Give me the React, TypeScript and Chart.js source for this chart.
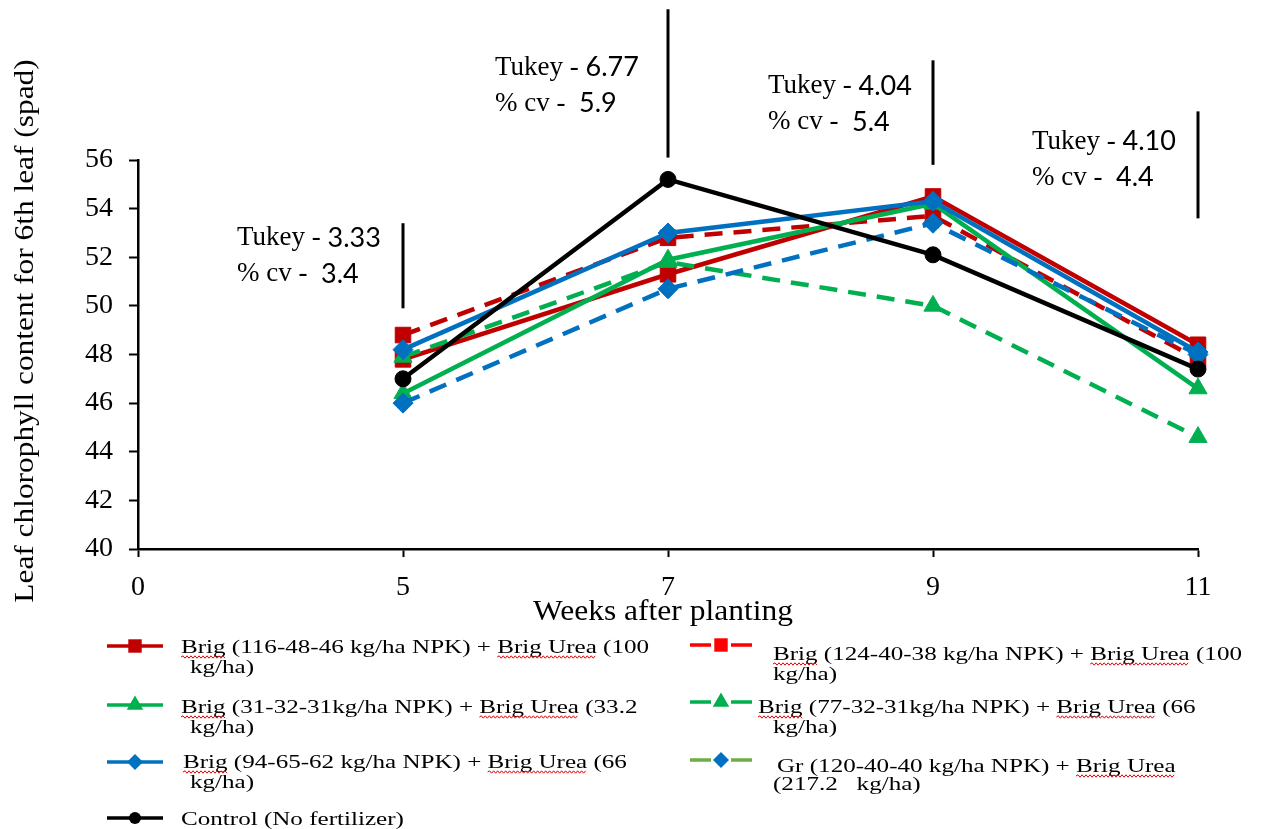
import React, { useEffect, useRef } from 'react';
import { Chart, registerables } from 'chart.js';

Chart.register(...registerables);

// ---------- data ----------
const weekLabels = ['0', '5', '7', '9', '11'];

const seriesNames = [
  'Brig (116-48-46 kg/ha NPK) + Brig Urea (100 kg/ha)',
  'Brig (124-40-38 kg/ha NPK) + Brig Urea (100 kg/ha)',
  'Brig (31-32-31kg/ha NPK) + Brig Urea (33.2 kg/ha)',
  'Brig (77-32-31kg/ha NPK) + Brig Urea (66 kg/ha)',
  'Brig (94-65-62 kg/ha NPK) + Brig Urea (66 kg/ha)',
  'Gr (120-40-40 kg/ha NPK) + Brig Urea (217.2 kg/ha)',
  'Control (No fertilizer)',
];

const brig116 = [null, 47.8, 51.3, 54.5, 48.4];
const brig124 = [null, 48.8, 52.8, 53.7, 47.8];
const brig31 = [null, 46.4, 51.9, 54.2, 46.6];
const brig77 = [null, 47.9, 51.8, 50.0, 44.6];
const brig94 = [null, 48.2, 53.0, 54.3, 48.1];
const gr120 = [null, 46.0, 50.7, 53.4, 48.0];
const control = [null, 47.0, 55.2, 52.1, 47.4];

const tukeyWeeks = ['5', '7', '9', '11'];
const tukeyValues = ['3.33', '6.77', '4.04', '4.10'];
const cvValues = ['3.4', '5.9', '5.4', '4.4'];

const yTicksMin = 40;
const yTicksMax = 56;
const yTicksStep = 2;

// ---------- styles / layout ----------
const seriesData = [brig116, brig124, brig31, brig77, brig94, gr120, control];
const seriesStyle = [
  { color: '#C00000', dash: [], point: 'rect', radius: 11, legendLine: '#C00000', legendMarker: '#C00000' },
  { color: '#C00000', dash: [18, 11], point: 'rect', radius: 11, legendLine: '#FF0000', legendMarker: '#FF0000' },
  { color: '#00B050', dash: [], point: 'triangle', radius: 10.5, legendLine: '#00B050', legendMarker: '#00B050' },
  { color: '#00B050', dash: [18, 11], point: 'triangle', radius: 10.5, legendLine: '#00B050', legendMarker: '#00B050' },
  { color: '#0070C0', dash: [], point: 'rectRot', radius: 10, legendLine: '#0070C0', legendMarker: '#0070C0' },
  { color: '#0070C0', dash: [18, 11], point: 'rectRot', radius: 10, legendLine: '#70AD47', legendMarker: '#0070C0' },
  { color: '#000000', dash: [], point: 'circle', radius: 8, legendLine: '#000000', legendMarker: '#000000' },
];

// annotation bars (data units) & text centre (data units)
const tukeyBarBottom = [49.9, 56.1, 55.8, 53.6];
const tukeyBarTop = [53.4, 62.2, 60.1, 58.0];
const tukeyTextY = [52.8, 59.8, 59.05, 56.75];
const tukeyTextDx = [-166, -173, -165, -166];

const legendLayout = [
  { sx0: 107, sx1: 163, sy: 646, split: false, lines: [[181, 648, 'Brig (116-48-46 kg/ha NPK) + Brig Urea (100'], [190, 668, 'kg/ha)']] },
  { sx0: 690, sx1: 752, sy: 645, split: true, lines: [[773, 655, 'Brig (124-40-38 kg/ha NPK) + Brig Urea (100'], [773, 675, 'kg/ha)']] },
  { sx0: 107, sx1: 163, sy: 705, split: false, lines: [[181, 708, 'Brig (31-32-31kg/ha NPK) + Brig Urea (33.2'], [190, 728, 'kg/ha)']] },
  { sx0: 690, sx1: 752, sy: 702, split: true, lines: [[758, 708, 'Brig (77-32-31kg/ha NPK) + Brig Urea (66'], [773, 728, 'kg/ha)']] },
  { sx0: 107, sx1: 163, sy: 762, split: false, lines: [[183, 763, 'Brig (94-65-62 kg/ha NPK) + Brig Urea (66'], [190, 783, 'kg/ha)']] },
  { sx0: 690, sx1: 752, sy: 760, split: true, lines: [[777, 767, 'Gr (120-40-40 kg/ha NPK) + Brig Urea'], [773, 785, '(217.2   kg/ha)']] },
  { sx0: 107, sx1: 163, sy: 818, split: false, lines: [[181, 820, 'Control (No fertilizer)']] },
];

const SERIF = '"Liberation Serif", "Times New Roman", serif';
const SANS = 'Lato, "Open Sans", sans-serif';

function drawMarker(ctx: CanvasRenderingContext2D, style: string, x: number, y: number, r: number, color: string) {
  ctx.save();
  ctx.fillStyle = color;
  ctx.beginPath();
  if (style === 'rect') {
    const s = r * Math.SQRT1_2;
    ctx.rect(x - s, y - s, 2 * s, 2 * s);
  } else if (style === 'triangle') {
    for (let i = 0; i < 3; i++) {
      const a = -Math.PI / 2 + (i * 2 * Math.PI) / 3;
      const px = x + Math.cos(a) * r;
      const py = y + Math.sin(a) * r;
      if (i === 0) ctx.moveTo(px, py);
      else ctx.lineTo(px, py);
    }
    ctx.closePath();
  } else if (style === 'rectRot') {
    ctx.moveTo(x, y - r);
    ctx.lineTo(x + r, y);
    ctx.lineTo(x, y + r);
    ctx.lineTo(x - r, y);
    ctx.closePath();
  } else {
    ctx.arc(x, y, r, 0, Math.PI * 2);
  }
  ctx.fill();
  ctx.restore();
}

function wavy(ctx: CanvasRenderingContext2D, x0: number, x1: number, y: number) {
  ctx.save();
  ctx.strokeStyle = '#E00000';
  ctx.lineWidth = 1;
  ctx.beginPath();
  let up = true;
  ctx.moveTo(x0, y);
  for (let x = x0 + 2; x <= x1; x += 2) {
    ctx.lineTo(x, y + (up ? -1.2 : 1.2));
    up = !up;
  }
  ctx.stroke();
  ctx.restore();
}

const overlayPlugin = {
  id: 'overlay',
  afterDraw(chart: any) {
    const ctx: CanvasRenderingContext2D = chart.ctx;
    const xs = chart.scales.x;
    const ys = chart.scales.y;
    ctx.save();

    // Axis titles
    ctx.fillStyle = '#000';
    ctx.textAlign = 'center';
    ctx.textBaseline = 'middle';
    ctx.save();
    ctx.translate(26, 331);
    ctx.rotate(-Math.PI / 2);
    ctx.scale(1.12, 1);
    ctx.font = `28px ${SERIF}`;
    ctx.fillText('Leaf chlorophyll content for 6th leaf (spad)', 0, 0);
    ctx.restore();

    ctx.save();
    ctx.translate(663, 612);
    ctx.scale(1.05, 1);
    ctx.font = `30px ${SERIF}`;
    ctx.fillText('Weeks after planting', 0, 0);
    ctx.restore();

    // Tukey annotations
    tukeyWeeks.forEach((wk, i) => {
      const idx = weekLabels.indexOf(wk);
      const x = xs.getPixelForValue(idx);
      ctx.save();
      ctx.strokeStyle = '#000';
      ctx.lineWidth = 3;
      ctx.beginPath();
      ctx.moveTo(x, ys.getPixelForValue(tukeyBarBottom[i]));
      ctx.lineTo(x, ys.getPixelForValue(tukeyBarTop[i]));
      ctx.stroke();
      ctx.restore();

      const tx = x + tukeyTextDx[i];
      const ty = ys.getPixelForValue(tukeyTextY[i]);
      ctx.textAlign = 'left';
      ctx.textBaseline = 'middle';
      ctx.font = `27px ${SERIF}`;
      const p1 = 'Tukey - ';
      ctx.fillText(p1, tx, ty);
      const w1 = ctx.measureText(p1).width;
      ctx.font = `27px ${SANS}`;
      ctx.fillText(tukeyValues[i], tx + w1, ty);

      ctx.font = `27px ${SERIF}`;
      const p2 = '% cv -  ';
      ctx.fillText(p2, tx, ty + 36);
      const w2 = ctx.measureText(p2).width;
      ctx.font = `27px ${SANS}`;
      ctx.fillText(cvValues[i], tx + w2, ty + 36);
    });

    // Legend
    const SX = 1.32;
    legendLayout.forEach((item, i) => {
      const st = seriesStyle[i];
      ctx.save();
      ctx.strokeStyle = st.legendLine;
      ctx.lineWidth = 3.5;
      ctx.beginPath();
      const mx = (item.sx0 + item.sx1) / 2;
      if (item.split) {
        ctx.moveTo(item.sx0, item.sy);
        ctx.lineTo(mx - 10, item.sy);
        ctx.moveTo(mx + 10, item.sy);
        ctx.lineTo(item.sx1, item.sy);
      } else {
        ctx.moveTo(item.sx0, item.sy);
        ctx.lineTo(item.sx1, item.sy);
      }
      ctx.stroke();
      ctx.restore();
      const mr = st.point === 'circle' ? 6 : st.point === 'rectRot' ? 8 : 9.5;
      drawMarker(ctx, st.point, mx, item.sy, mr, st.legendMarker);

      ctx.fillStyle = '#000';
      ctx.font = `19px ${SERIF}`;
      ctx.textAlign = 'left';
      ctx.textBaseline = 'middle';
      item.lines.forEach(([lx, ly, text]: any) => {
        ctx.save();
        ctx.translate(lx, ly);
        ctx.scale(SX, 1);
        ctx.fillText(text, 0, 0);
        ctx.restore();
        const re = /Brig( Urea)?/g;
        let m: RegExpExecArray | null;
        while ((m = re.exec(text)) !== null) {
          const a = ctx.measureText(text.slice(0, m.index)).width * SX;
          const w = ctx.measureText(m[0]).width * SX;
          wavy(ctx, lx + a, lx + a + w, ly + 9);
        }
      });
    });

    ctx.restore();
  },
};

export default function App() {
  const canvasRef = useRef<HTMLCanvasElement | null>(null);

  useEffect(() => {
    document.body.style.margin = '0';
    const canvas = canvasRef.current;
    if (!canvas) return;

    const datasets = seriesData.map((d, i) => {
      const st = seriesStyle[i];
      return {
        label: seriesNames[i],
        data: d,
        borderColor: st.color,
        backgroundColor: st.color,
        borderWidth: 4.5,
        borderDash: st.dash,
        pointStyle: st.point,
        pointRadius: st.radius,
        pointHoverRadius: st.radius,
        pointBackgroundColor: st.color,
        pointBorderColor: st.color,
        pointBorderWidth: 1,
        tension: 0,
        fill: false,
        clip: false,
        order: seriesData.length - i,
      };
    });

    const chart = new Chart(canvas, {
      type: 'line',
      data: { labels: weekLabels, datasets: datasets as any },
      options: {
        responsive: false,
        maintainAspectRatio: false,
        animation: false,
        devicePixelRatio: 1,
        layout: { padding: { left: 0, right: 64, top: 160, bottom: 199 } },
        plugins: {
          legend: { display: false },
          tooltip: { enabled: false },
          title: { display: false },
        },
        scales: {
          x: {
            type: 'category',
            offset: false,
            grid: {
              display: true,
              drawOnChartArea: false,
              drawTicks: true,
              tickLength: 8,
              tickColor: '#000',
              tickWidth: 2,
            },
            border: { display: true, color: '#000', width: 2.5 },
            ticks: {
              color: '#000',
              font: { family: SERIF, size: 28 },
              padding: 14,
              maxRotation: 0,
              autoSkip: false,
            },
            afterFit: (scale: any) => {
              scale.height = 81;
            },
          },
          y: {
            min: yTicksMin,
            max: yTicksMax,
            grid: {
              display: true,
              drawOnChartArea: false,
              drawTicks: true,
              tickLength: 9,
              tickColor: '#000',
              tickWidth: 2,
            },
            border: { display: true, color: '#000', width: 2.5 },
            ticks: {
              stepSize: yTicksStep,
              color: '#000',
              font: { family: SERIF, size: 28 },
              padding: 16,
            },
            afterFit: (scale: any) => {
              scale.width = 138;
            },
          },
        },
      },
      plugins: [overlayPlugin],
    });

    return () => {
      chart.destroy();
    };
  }, []);

  return (
    <div style={{ position: 'relative', width: 1262, height: 829, background: '#fff' }}>
      <canvas ref={canvasRef} width={1262} height={829} style={{ display: 'block' }} />
    </div>
  );
}
